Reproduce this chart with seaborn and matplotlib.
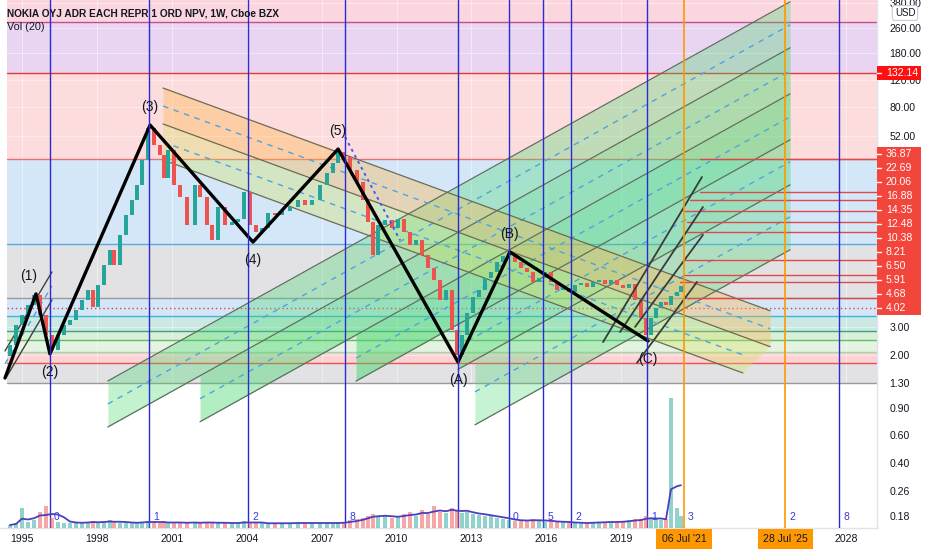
import numpy as np
import pandas as pd
import matplotlib
matplotlib.use("Agg")
import matplotlib.pyplot as plt
import matplotlib.ticker as mticker
import matplotlib.transforms as mtransforms
import matplotlib.patches as mpatches
import seaborn as sns

# ---------------- data ----------------
title_text = "NOKIA OYJ ADR EACH REPR 1 ORD NPV, 1W, Cboe BZX"
vol_text = "Vol (20)"

price_years = [
    1994.52, 1994.76, 1995.00, 1995.24, 1995.48, 1995.72, 1995.96,
    1996.20, 1996.44, 1996.68, 1996.92, 1997.16, 1997.40, 1997.64, 1997.84,
    1998.04, 1998.28, 1998.52, 1998.68, 1998.92, 1999.16, 1999.40, 1999.60, 1999.80,
    2000.05, 2000.29, 2000.53, 2000.69, 2000.85, 2001.09, 2001.33, 2001.61, 2001.93,
    2002.13, 2002.41, 2002.61, 2002.85, 2003.13, 2003.41, 2003.65, 2003.89,
    2004.13, 2004.37, 2004.61, 2004.85, 2005.13, 2005.41, 2005.73,
    2006.05, 2006.33, 2006.61, 2006.93, 2007.21, 2007.45, 2007.65, 2007.90,
    2008.13, 2008.42, 2008.66, 2008.86, 2009.06, 2009.26, 2009.54, 2009.82,
    2010.06, 2010.30, 2010.54, 2010.78, 2011.02, 2011.26, 2011.50, 2011.74, 2011.98,
    2012.22, 2012.42, 2012.62, 2012.82, 2013.06, 2013.30, 2013.54, 2013.78,
    2014.02, 2014.26, 2014.50, 2014.74, 2014.98, 2015.22, 2015.46, 2015.70, 2015.95,
    2016.19, 2016.43, 2016.67, 2016.91, 2017.15, 2017.39, 2017.63, 2017.87,
    2018.11, 2018.35, 2018.59, 2018.83, 2019.07, 2019.31, 2019.55, 2019.79, 2019.99,
    2020.19, 2020.39, 2020.59, 2020.79, 2020.99, 2021.23, 2021.39,
]
price_close = [
    2.31, 3.11, 3.61, 4.19, 4.86, 3.61, 2.68,
    2.14, 2.68, 3.11, 3.35, 3.89, 4.51, 5.24, 4.07,
    5.65, 7.6, 9.5, 7.6, 11.9, 16.0, 20.0, 25.0, 36.4,
    58.6, 45.5, 39.2, 27.8, 42.2, 25.0, 20.9, 13.8, 25.0,
    20.9, 13.8, 11.0, 18.0, 13.8, 14.4, 15.2, 22.6,
    13.8, 12.5, 13.2, 16.6, 16.0, 16.9, 18.0,
    20.0, 18.6, 20.0, 25.0, 30.0, 34.8, 41.0, 38.0,
    31.3, 26.2, 20.0, 14.4, 8.83, 13.8, 14.9, 13.2,
    15.2, 12.5, 10.2, 11.0, 8.83, 7.3, 6.08, 4.51, 5.24,
    2.88, 1.99, 2.68, 3.73, 4.71, 5.24, 6.27, 6.8,
    7.95, 8.7, 9.1, 7.95, 7.3, 6.8, 5.9, 6.27, 6.8,
    5.9, 5.24, 5.4, 5.1, 5.65, 5.8, 5.5, 5.9,
    6.08, 5.74, 6.08, 5.65, 5.4, 5.74, 4.51, 3.45, 2.68,
    3.45, 4.0, 4.37, 4.19, 4.78, 5.1, 5.55,
]
price_open0 = 1.95
volume_m = [
    60, 100, 400, 120, 160, 320, 440,
    200, 120, 100, 100, 120, 100, 120, 140,
    100, 120, 160, 120, 100, 100, 120, 100, 120,
    140, 120, 100, 120, 100, 120, 100, 100, 120,
    100, 120, 100, 100, 100, 100, 100, 140,
    100, 100, 100, 80, 100, 100, 100,
    100, 100, 100, 100, 100, 100, 100, 120,
    160, 180, 200, 240, 280, 220, 240, 200,
    240, 280, 320, 240, 360, 280, 440, 320, 300,
    400, 360, 300, 320, 280, 260, 240, 240,
    200, 180, 160, 140, 140, 160, 180, 140, 120,
    140, 120, 120, 100, 100, 100, 100, 120,
    120, 120, 120, 120, 140, 160, 180, 160, 240,
    200, 160, 160, 180, 2600, 400, 240,
]
assert len(price_years) == len(price_close) == len(volume_m)

wave_years = [1994.32, 1995.56, 1996.12, 2000.13, 2004.25, 2007.66, 2012.46, 2014.54, 2020.07]
wave_prices = [1.41, 4.94, 2.02, 61.2, 10.7, 42.8, 1.79, 9.23, 2.45]
wave_labels = ["", "(1)", "(2)", "(3)", "(4)", "(5)", "(A)", "(B)", "(C)"]
wave_above = [None, True, False, True, False, True, False, True, False]

fib_levels = [1.31, 1.77, 2.08, 2.49, 2.84, 3.55, 4.68, 10.38, 36.87, 132.14, 284.0, 420.0]
fib_start_year = 1994.40
last_price_level = 4.02

# big ascending channel set
asc_x0 = [1998.44, 1998.44, 1998.44, 2002.13, 2002.13, 2008.38, 2008.38, 2012.46, 2012.46, 2013.14, 2013.14]
asc_p0 = [1.350, 0.958, 0.680, 1.035, 0.735, 1.899, 1.348, 2.260, 1.604, 1.147, 0.702]
asc_p1 = [384.2, 272.7, 193.6, 137.4, 97.5, 69.2, 49.1, 35.4, 25.1, 15.6, 9.54]
asc_x_end = 2025.76
asc_band_x0 = [1998.44, 2002.13, 2008.38, 2012.46, 2013.14]
asc_band_top0 = [1.350, 1.458, 2.68, 3.14, 1.849]
asc_band_bot0 = [0.680, 0.735, 1.348, 1.604, 0.702]
asc_band_top1 = [384.2, 193.6, 97.5, 49.1, 25.1]
asc_band_bot1 = [193.6, 97.5, 49.1, 25.1, 9.54]

# descending channel set
desc_x0 = 2000.65
desc_x1 = [2024.96, 2024.96, 2024.96, 2023.87, 2023.87]
desc_p0 = [106.3, 81.3, 62.2, 47.6, 36.4]
desc_p1 = [3.84, 2.94, 2.25, 1.99, 1.52]

# small channel at wave (1)
fork1_x0 = [1994.32, 1994.32, 1994.40]
fork1_x1 = [1996.20, 1996.20, 1996.20]
fork1_p0 = [2.11, 1.74, 1.45]
fork1_p1 = [6.85, 5.56, 4.51]

# small fork after (C)
forkC_x0 = [2018.27, 2018.95, 2019.55, 2019.63]
forkC_x1 = [2022.23, 2022.27, 2022.27, 2022.03]
forkC_p0 = [2.41, 2.80, 3.02, 1.77]
forkC_p1 = [28.2, 18.05, 11.89, 5.90]

# dotted line from (5)
dot5_years = [2007.94, 2010.14]
dot5_prices = [51.2, 11.0]

# horizontal target lines on the right
target_levels = [36.87, 22.69, 20.06, 16.88, 14.35, 12.48, 8.21, 6.50, 5.91, 4.68]
target_start = [2022.15, 2022.15, 2021.75, 2021.47, 2021.63, 2021.63, 2021.47, 2021.47, 2021.35, 2021.63]

label_levels = [132.14, 36.87, 22.69, 20.06, 16.88, 14.35, 12.48, 10.38, 8.21, 6.50, 5.91, 4.68, 4.02]

blue_years = [1996.12, 2000.09, 2004.05, 2007.94, 2012.46, 2014.50, 2015.87, 2016.99, 2020.03, 2027.72]
blue_labels = ["0", "1", "2", "8", "", "0", "5", "2", "1", "8"]
orange_years = [2021.51, 2025.57]
orange_labels = ["3", "2"]
orange_dates = ["06 Jul '21", "28 Jul '25"]

x_ticks = [1995, 1998, 2001, 2004, 2007, 2010, 2013, 2016, 2019, 2028]
x_ticklabels = ["1995", "1998", "2001", "2004", "2007", "2010", "2013", "2016", "2019", "2028"]
y_ticks = [380, 260, 180, 120, 80, 52, 3.0, 2.0, 1.3, 0.9, 0.6, 0.4, 0.26, 0.18]

# ---------------- figure ----------------
sns.set_theme(style="white")
plt.rcParams['font.family'] = ['Liberation Sans', 'DejaVu Sans']

FW, FH = 932, 550
AXL, AXB, AXW, AXH = 0, 22, 877, 528
fig = plt.figure(figsize=(FW / 100, FH / 100), dpi=100)
rect = [AXL / FW, AXB / FH, AXW / FW, AXH / FH]
ax = fig.add_axes(rect)
ax.set_yscale('log')
XMIN, XMAX = 1994.12, 2029.24
YMIN, YMAX = 0.1508, 394.7
ax.set_xlim(XMIN, XMAX)
ax.set_ylim(YMIN, YMAX)
ax.set_facecolor('white')
blend = mtransforms.blended_transform_factory(ax.transData, ax.transAxes)

# fib background bands
fib_fill_colors = ['#e2e2e5', '#fbd2d5', '#e5f3e2', '#d8efd8', '#cce8e3', '#d4e7f9',
                   '#e2e2e5', '#d4e7f9', '#fcdcdc', '#e9d5f1', '#fbd6df']
fib_line_colors = ['#9a9a9a', '#ef5350', '#a5d6a7', '#66bb6a', '#3f9f7f', '#3fb5d8',
                   '#9a9a9a', '#5aa9e6', '#e57373', '#e53935', '#c2508e']
for lo, hi, c in zip(fib_levels[:-1], fib_levels[1:], fib_fill_colors):
    ax.fill_between([fib_start_year, XMAX + 1], lo, hi, color=c, lw=0, zorder=0)
for lv, c in zip(fib_levels[:-1], fib_line_colors):
    ax.plot([fib_start_year, XMAX + 1], [lv, lv], color=c, lw=1.0, zorder=1)
ax.plot([fib_start_year, XMAX + 1], [last_price_level] * 2, color='#f23645', lw=1.0,
        ls=(0, (1, 2)), zorder=1)

# grid
ax.set_xticks(x_ticks)
ax.set_yticks(y_ticks)
ax.yaxis.set_minor_locator(mticker.NullLocator())
ax.grid(True, color='white', alpha=0.45, lw=0.8)
ax.set_axisbelow(True)

# ascending channel fills & lines
band_alpha = [0.32, 0.42, 0.50, 0.42, 0.30]
for x0, t0, b0, t1, b1, a in zip(asc_band_x0, asc_band_top0, asc_band_bot0,
                                 asc_band_top1, asc_band_bot1, band_alpha):
    ax.fill_between([x0, asc_x_end], [t0, t1], [b0, b1], color='#45d86c', alpha=a, lw=0, zorder=2)
for i, (x0, p0, p1) in enumerate(zip(asc_x0, asc_p0, asc_p1)):
    if i % 2 == 1:
        ax.plot([x0, asc_x_end], [p0, p1], color='#4fa3e0', lw=1.0, ls=(0, (4, 4)), zorder=3)
    else:
        ax.plot([x0, asc_x_end], [p0, p1], color='#5f6f5f', lw=0.9, zorder=3)

# descending channel fills & lines
ax.fill_between([desc_x0, desc_x1[0]], [desc_p0[0], desc_p1[0]], [desc_p0[2], desc_p1[2]],
                color='#ffb74d', alpha=0.38, lw=0, zorder=2.1)
ax.fill([desc_x0, desc_x1[2], desc_x1[4], desc_x0],
        [desc_p0[2], desc_p1[2], desc_p1[4], desc_p0[4]],
        color='#d4e157', alpha=0.32, lw=0, zorder=2.1)
for i, (x1, p0, p1) in enumerate(zip(desc_x1, desc_p0, desc_p1)):
    if i % 2 == 1:
        ax.plot([desc_x0, x1], [p0, p1], color='#4fa3e0', lw=1.0, ls=(0, (4, 4)), zorder=3)
    else:
        ax.plot([desc_x0, x1], [p0, p1], color='#6b6b55', lw=0.9, zorder=3)

# small channel at (1)
for i, (x0, x1, p0, p1) in enumerate(zip(fork1_x0, fork1_x1, fork1_p0, fork1_p1)):
    if i == 1:
        ax.plot([x0, x1], [p0, p1], color='#4fa3e0', lw=1.0, ls=(0, (4, 4)), zorder=3)
    else:
        ax.plot([x0, x1], [p0, p1], color='#404040', lw=1.0, zorder=3)

# small fork after (C)
for x0, x1, p0, p1 in zip(forkC_x0, forkC_x1, forkC_p0, forkC_p1):
    ax.plot([x0, x1], [p0, p1], color='#3a3a3a', lw=1.3, zorder=5)

# red target lines
for lv, xs in zip(target_levels, target_start):
    ax.plot([xs, XMAX + 1], [lv, lv], color='#e04848', lw=1.0, zorder=3.5)

# candles
opens = [price_open0] + price_close[:-1]
up_col, dn_col = '#26a69a', '#ef5350'
cols = [up_col if c >= o else dn_col for o, c in zip(opens, price_close)]
bottoms = [min(o, c) for o, c in zip(opens, price_close)]
heights = [abs(c - o) for o, c in zip(opens, price_close)]
ax.bar(price_years, heights, bottom=bottoms, width=0.17, color=cols, lw=0, zorder=4)

# dotted line from (5)
ax.plot(dot5_years, dot5_prices, color='#3d5afe', lw=1.4, ls=(0, (1.5, 2)), zorder=5)

# Elliott wave
sns.lineplot(x=wave_years, y=wave_prices, ax=ax, color='black', lw=2.4, sort=False,
             estimator=None, zorder=6)
for x, p, lab, up in zip(wave_years, wave_prices, wave_labels, wave_above):
    if not lab:
        continue
    dx = -5 if lab == "(1)" else 0
    dy = 13 if up else -13
    ax.annotate(lab, xy=(x, p), xytext=(dx, dy), textcoords='offset points',
                ha='center', va='center', fontsize=10, color='#131722', zorder=8)

# vertical lines
for x in blue_years:
    ax.axvline(x, color='#2a2ad6', lw=1.0, zorder=7)
for x in orange_years:
    ax.axvline(x, color='#ff9800', lw=1.2, zorder=7)

# volume pane
vax = fig.add_axes(rect, sharex=ax)
vax.patch.set_visible(False)
vax.axis('off')
vax.set_ylim(0, 10560)
vax.bar(price_years, volume_m, width=0.16, color=cols, alpha=0.5, lw=0)
vol_ma = pd.Series(volume_m, dtype=float).rolling(4, min_periods=1).mean()
sns.lineplot(x=price_years, y=vol_ma.values, ax=vax, color='#4b3fbf', lw=1.3,
             estimator=None, sort=False)
for x, lab in zip(blue_years + orange_years, blue_labels + orange_labels):
    if lab:
        vax.annotate(lab, xy=(x, 0.02), xycoords=('data', 'axes fraction'), xytext=(3, 0),
                     textcoords='offset points', ha='left', va='center', fontsize=7.5,
                     color='#3a3ad8')

# axes styling
ax.yaxis.tick_right()
ax.set_yticklabels([f"{t:.2f}" for t in y_ticks])
ax.set_xticklabels(x_ticklabels)
ax.tick_params(axis='y', length=0, pad=9, labelsize=7.6, labelcolor='#131722')
ax.tick_params(axis='x', length=0, pad=4, labelsize=7.6, labelcolor='#131722')
for s in ['top', 'left']:
    ax.spines[s].set_visible(False)
for s in ['right', 'bottom']:
    ax.spines[s].set_color('#e0e3eb')
    ax.spines[s].set_linewidth(1.0)

# red price labels stacked on the right scale
lnmin, lnmax = np.log(YMIN), np.log(YMAX)
placed = {}
prev = -1e9
for v in sorted(label_levels):
    px = (np.log(v) - lnmin) / (lnmax - lnmin) * AXH
    px = max(px, prev + 14)
    placed[v] = px
    prev = px
for v in label_levels:
    fc = '#ff1010' if v == max(label_levels) else '#f2463c'
    yc = placed[v] / AXH
    ax.add_patch(mpatches.Rectangle((1.0, yc - 7 / AXH), 44 / AXW, 14 / AXH,
                                    transform=ax.transAxes, clip_on=False,
                                    fc=fc, ec='none', zorder=9))
    ax.plot([1.0, 1.0 + 4 / AXW], [yc, yc], transform=ax.transAxes, color='white',
            lw=1.0, clip_on=False, zorder=10)
    ax.text(1.0 + 9 / AXW, yc, f"{v:.2f}", transform=ax.transAxes, ha='left', va='center',
            fontsize=7.6, color='white', zorder=11, clip_on=False)

# orange date boxes
for x, d in zip(orange_years, orange_dates):
    ax.text(x, -11 / AXH, d, transform=blend, ha='center', va='center', fontsize=7.6,
            color='#131722', zorder=11, clip_on=False,
            bbox=dict(boxstyle='square,pad=0.5', fc='#ff9800', ec='none'))

# header texts
fig.text(7 / FW, 1 - 13 / FH, title_text, fontsize=7.3, fontweight='bold', color='#131722',
         ha='left', va='center')
fig.text(7 / FW, 1 - 27 / FH, vol_text, fontsize=7.8, color='#131722', ha='left', va='center')
fig.text(905 / FW, 1 - 13 / FH, "USD", fontsize=7, color='#131722', ha='center', va='center',
         bbox=dict(boxstyle='round,pad=0.25', fc='white', ec='#c9ccd4', lw=0.8))

fig.savefig("out.png", dpi=100)
